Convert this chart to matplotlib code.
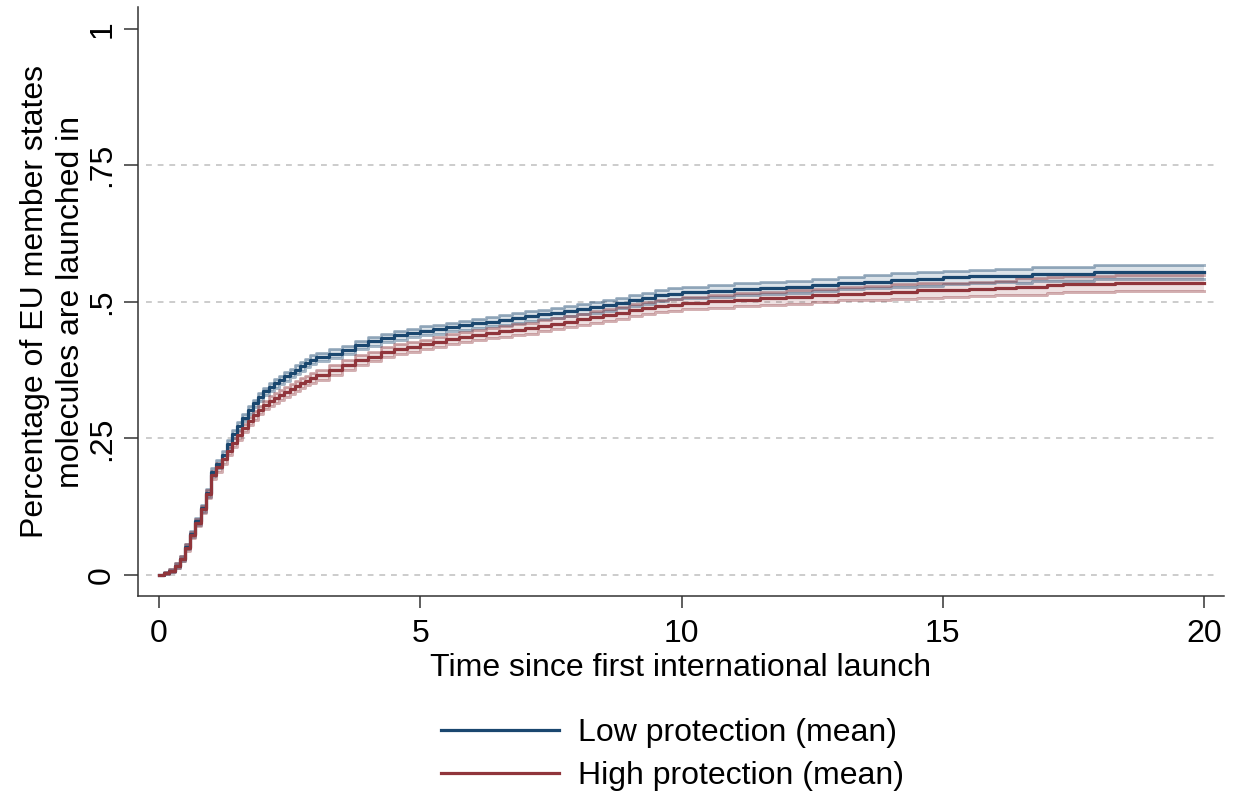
import numpy as np
import matplotlib.pyplot as plt

plt.rcParams['font.family'] = ['Liberation Sans', 'DejaVu Sans']

# analysis time (years since first international launch)
times = [0.0, 0.1, 0.2, 0.3, 0.4, 0.5, 0.6, 0.7, 0.8, 0.9,
         1.0, 1.1, 1.2, 1.3, 1.4, 1.5, 1.6, 1.7, 1.8, 1.9,
         2.0, 2.1, 2.2, 2.3, 2.4, 2.5, 2.6, 2.7, 2.8, 2.9,
         3.0, 3.25, 3.5, 3.75, 4.0, 4.25, 4.5, 4.75, 5.0, 5.25,
         5.5, 5.75, 6.0, 6.25, 6.5, 6.75, 7.0, 7.25, 7.5, 7.75,
         8.0, 8.25, 8.5, 8.75, 9.0, 9.25, 9.5, 9.75, 10.0, 10.5,
         11.0, 11.5, 12.0, 12.5, 13.0, 13.5, 14.0, 14.5, 15.0, 15.5,
         16.0, 16.4, 16.7, 17.0, 17.3, 17.9, 18.3, 20.0]

low_mean = [0.000, 0.003, 0.008, 0.017, 0.030, 0.052, 0.075, 0.098, 0.122, 0.150,
            0.188, 0.203, 0.220, 0.240, 0.258, 0.273, 0.288, 0.302, 0.314, 0.326,
            0.336, 0.344, 0.351, 0.357, 0.364, 0.370, 0.376, 0.382, 0.388, 0.394,
            0.399, 0.405, 0.412, 0.421, 0.428, 0.434, 0.439, 0.443, 0.447, 0.450,
            0.454, 0.457, 0.461, 0.464, 0.467, 0.470, 0.474, 0.477, 0.480, 0.484,
            0.487, 0.490, 0.494, 0.498, 0.503, 0.507, 0.512, 0.515, 0.518, 0.520,
            0.523, 0.525, 0.528, 0.531, 0.534, 0.537, 0.540, 0.542, 0.545, 0.547,
            0.548, 0.548, 0.551, 0.551, 0.551, 0.555, 0.555, 0.555]

high_mean = [0.000, 0.003, 0.008, 0.017, 0.030, 0.050, 0.073, 0.096, 0.120, 0.148,
             0.183, 0.197, 0.212, 0.227, 0.242, 0.256, 0.269, 0.282, 0.292, 0.302,
             0.311, 0.318, 0.324, 0.330, 0.335, 0.341, 0.346, 0.351, 0.356, 0.361,
             0.366, 0.375, 0.385, 0.393, 0.400, 0.408, 0.413, 0.418, 0.422, 0.427,
             0.432, 0.436, 0.440, 0.443, 0.446, 0.449, 0.452, 0.456, 0.460, 0.464,
             0.468, 0.472, 0.476, 0.480, 0.485, 0.489, 0.492, 0.495, 0.498, 0.501,
             0.504, 0.507, 0.509, 0.512, 0.515, 0.517, 0.519, 0.521, 0.522, 0.524,
             0.526, 0.528, 0.528, 0.531, 0.533, 0.533, 0.535, 0.535]

# half width of the 95% confidence band
low_ci = [0.000, 0.002, 0.003, 0.004, 0.005, 0.005, 0.006, 0.006, 0.006, 0.007,
          0.007, 0.007, 0.007, 0.007, 0.007, 0.007, 0.007, 0.007, 0.007, 0.007,
          0.007, 0.008, 0.008, 0.008, 0.008, 0.008, 0.008, 0.008, 0.008, 0.008,
          0.008, 0.008, 0.008, 0.008, 0.008, 0.008, 0.008, 0.008, 0.008, 0.008,
          0.008, 0.008, 0.008, 0.009, 0.009, 0.009, 0.009, 0.009, 0.009, 0.009,
          0.009, 0.010, 0.010, 0.010, 0.010, 0.010, 0.010, 0.010, 0.010, 0.011,
          0.011, 0.011, 0.011, 0.011, 0.011, 0.012, 0.012, 0.012, 0.012, 0.012,
          0.012, 0.013, 0.013, 0.013, 0.013, 0.013, 0.013, 0.013]

high_ci = [0.000, 0.002, 0.003, 0.004, 0.005, 0.006, 0.006, 0.007, 0.007, 0.007,
           0.008, 0.008, 0.008, 0.008, 0.008, 0.008, 0.008, 0.008, 0.008, 0.008,
           0.008, 0.009, 0.009, 0.009, 0.009, 0.009, 0.009, 0.009, 0.009, 0.009,
           0.009, 0.009, 0.009, 0.009, 0.009, 0.009, 0.009, 0.009, 0.009, 0.009,
           0.009, 0.009, 0.009, 0.010, 0.010, 0.010, 0.010, 0.010, 0.010, 0.010,
           0.010, 0.011, 0.011, 0.011, 0.011, 0.011, 0.011, 0.011, 0.011, 0.012,
           0.012, 0.012, 0.012, 0.012, 0.012, 0.013, 0.013, 0.013, 0.013, 0.013,
           0.013, 0.015, 0.015, 0.015, 0.015, 0.015, 0.015, 0.015]

series_labels = ['Low protection (mean)', 'High protection (mean)']
x_ticks = [0, 5, 10, 15, 20]
y_ticks = [0, 0.25, 0.5, 0.75, 1]
y_tick_labels = ['0', '.25', '.5', '.75', '1']

BLUE = '#1a476f'
RED = '#90353b'
FS = 23

fig = plt.figure(figsize=(12.34, 7.94), dpi=100)
ax = fig.add_axes([0.1118, 0.2494, 0.8801, 0.7418])

# dashed grid (Stata style, no line at 1)
ax.hlines(y_ticks[:-1], -0.25, 20.25, colors='#c4c4c4', linestyles=(0, (3.5, 3.5)),
          linewidth=1.2, zorder=0)

t = np.array(times)
groups = [(np.array(low_mean), np.array(low_ci), BLUE),
          (np.array(high_mean), np.array(high_ci), RED)]

for mean, ci, col in groups:
    lo, hi = mean - ci, mean + ci
    ax.fill_between(t, lo, hi, step='post', color=col, alpha=0.15, lw=0, zorder=1)
    ax.step(t, lo, where='post', color=col, alpha=0.4, lw=2.1, zorder=2)
    ax.step(t, hi, where='post', color=col, alpha=0.4, lw=2.1, zorder=2)

handles = []
for (mean, ci, col), lab in zip(groups, series_labels):
    ln, = ax.step(t, mean, where='post', color=col, lw=2.3, zorder=3, label=lab)
    handles.append(ln)

ax.set_xlim(-0.4, 20.38)
ax.set_ylim(-0.0385, 1.04)
ax.set_xticks(x_ticks)
ax.set_xticklabels([str(v) for v in x_ticks])
ax.set_yticks(y_ticks)
ax.set_yticklabels(y_tick_labels, rotation=90, va='center')

for side in ['top', 'right']:
    ax.spines[side].set_visible(False)
for side in ['left', 'bottom']:
    ax.spines[side].set_color('#333333')
    ax.spines[side].set_linewidth(1.1)

ax.tick_params(axis='x', length=8.5, width=1.1, color='#333333', pad=8, labelsize=FS)
ax.tick_params(axis='y', length=10, width=1.1, color='#333333', pad=5, labelsize=FS)

ax.set_xlabel('Time since first international launch', fontsize=FS, labelpad=3)
ax.set_ylabel('Percentage of EU member states\nmolecules are launched in', fontsize=FS,
              linespacing=1.25)
ax.yaxis.set_label_coords(-0.048, 0.5)

fig.legend(handles=handles, loc='center', bbox_to_anchor=(0.545, 0.05),
           frameon=False, fontsize=FS, handlelength=3.7, handletextpad=0.6,
           labelspacing=0.4, borderpad=0)

fig.savefig('out.png', dpi=100)
